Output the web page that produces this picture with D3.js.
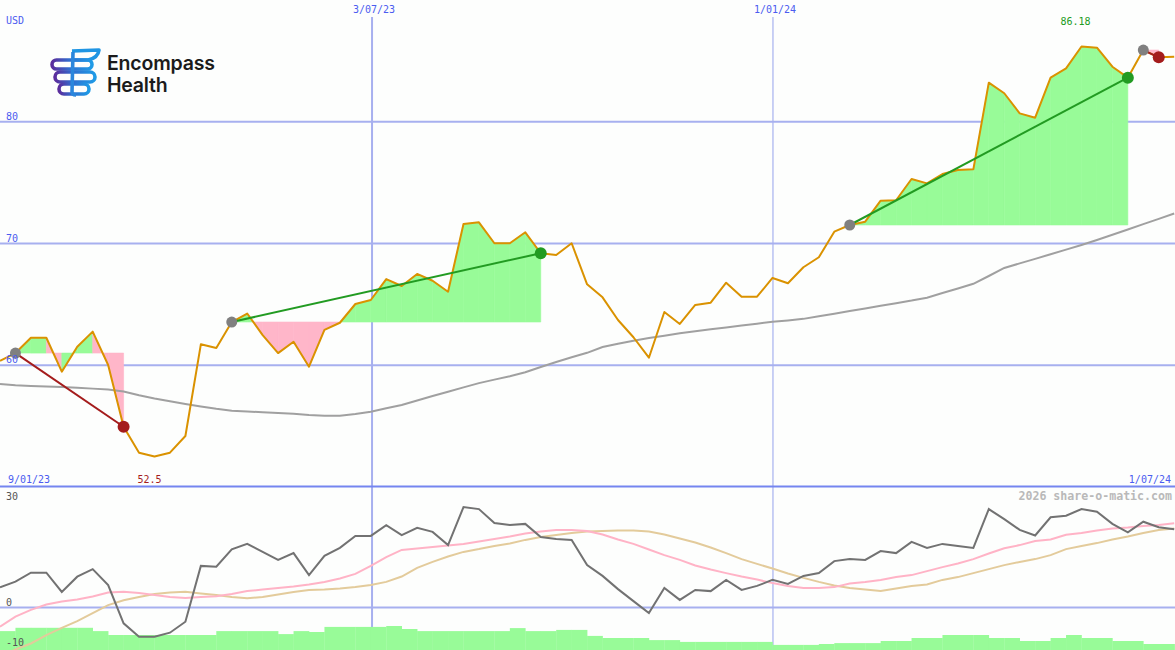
<!DOCTYPE html>
<html><head><meta charset="utf-8">
<script src="https://cdn.jsdelivr.net/npm/d3@7"></script>
<style>
html,body{margin:0;padding:0;background:#fdfefd;}
svg{display:block;}
text.mono{font-family:"DejaVu Sans Mono",monospace;}
text.logo{font-family:Inter,"Open Sans",sans-serif;}
</style></head>
<body>
<svg id="chart" width="1175" height="650"></svg>
<script>
// ---------- data ----------
const price = [60.37,61.0,62.26,62.26,59.47,61.52,62.76,60.02,54.95,52.82,
  52.5,52.82,54.19,61.72,61.42,63.55,64.25,62.48,61.0,61.93,
  59.88,62.9,63.49,65.03,65.36,67.08,66.51,67.5,66.94,66.04,
  71.6,71.74,70.02,70.02,70.92,69.2,69.06,70.02,66.65,65.58,
  63.72,62.3,60.62,64.37,63.39,64.95,65.14,66.78,65.63,65.63,
  67.17,66.73,68.05,68.87,70.97,71.52,71.79,73.52,73.55,75.3,
  74.94,75.71,76.04,76.09,83.21,82.34,80.69,80.33,83.62,84.39,
  86.18,86.08,84.52,83.62,85.89,85.29,85.34];
const movingAvg = [58.46,58.36,58.30,58.26,58.22,58.16,58.08,58.0,57.84,57.53,
  57.27,57.04,56.82,56.62,56.42,56.26,56.20,56.14,56.08,56.01,
  55.91,55.86,55.86,56.0,56.18,56.46,56.74,57.10,57.47,57.83,
  58.18,58.53,58.82,59.09,59.42,59.86,60.27,60.66,61.02,61.50,
  61.77,62.02,62.24,62.43,62.62,62.80,62.96,63.11,63.26,63.41,
  63.57,63.68,63.81,64.03,64.23,64.45,64.66,64.88,65.10,65.31,
  65.55,65.93,66.31,66.69,67.33,67.99,68.37,68.74,69.12,69.50,
  69.88,70.29,70.72,71.15,71.59,72.02,72.46];
const oscMain = [5.05,6.45,8.7,8.7,3.9,7.7,9.6,5.6,-3.95,-7.3,
  -7.3,-6.3,-3.55,10.4,10.2,14.55,15.9,13.9,11.9,13.6,
  8.1,12.9,14.9,17.9,17.9,20.6,18.1,19.9,18.9,15.6,
  25.1,24.6,21.1,20.6,20.9,17.6,17.1,16.9,10.6,7.9,
  4.6,1.6,-1.4,4.9,1.9,4.4,4.1,6.9,4.4,5.4,
  6.9,5.9,7.9,8.6,11.6,12.1,11.9,14.1,13.6,16.4,
  14.9,15.9,15.4,14.9,24.6,22.1,19.4,18.0,22.55,22.95,
  24.6,23.95,20.9,18.8,21.45,20.05,19.55];
const oscPink = [-4.8,-2.3,-0.6,0.75,1.5,2.0,2.75,3.75,3.95,3.6,
  3.1,2.6,2.4,2.6,2.8,3.4,4.1,4.5,4.9,5.25,
  5.75,6.4,7.25,8.4,10.4,12.6,14.4,14.75,15.1,15.5,
  15.9,16.5,17.1,17.75,18.5,19.0,19.4,19.4,19.1,18.25,
  17.0,15.9,14.5,13.1,11.9,10.5,9.5,8.6,7.75,7.0,
  6.1,5.4,4.9,4.9,5.1,6.0,6.4,6.9,7.6,8.1,
  9.1,10.1,11.0,12.1,13.5,14.8,15.6,16.6,17.0,18.2,
  18.6,19.25,19.75,20.0,20.4,20.6,21.05];
const oscTan = [-12.4,-10.5,-9.0,-6.9,-5.1,-3.4,-1.4,0.6,1.8,2.6,
  3.4,3.75,3.95,3.5,3.1,2.6,2.3,2.6,3.25,3.9,
  4.4,4.5,4.75,5.1,5.6,6.4,7.75,9.9,11.4,12.75,
  13.9,14.6,15.4,16.0,16.9,17.6,18.1,18.6,19.0,19.1,
  19.25,19.25,19.0,18.25,17.25,16.25,15.0,13.6,12.1,10.9,
  9.75,8.5,7.4,6.4,5.5,4.9,4.5,4.1,4.75,5.4,
  5.75,6.9,7.6,8.6,9.6,10.6,11.4,12.1,13.1,14.6,
  15.4,16.1,17.0,17.75,18.6,19.4,19.75];
const volume = [0.63,0.74,0.74,0.74,0.74,0.74,0.63,0.50,0.50,0.50,
  0.50,0.50,0.50,0.50,0.63,0.63,0.63,0.63,0.53,0.63,
  0.60,0.77,0.77,0.77,0.77,0.80,0.70,0.63,0.63,0.63,
  0.63,0.63,0.63,0.73,0.63,0.63,0.67,0.67,0.47,0.40,
  0.40,0.40,0.33,0.33,0.27,0.27,0.27,0.27,0.27,0.27,
  0.17,0.17,0.17,0.20,0.23,0.23,0.23,0.30,0.30,0.40,
  0.40,0.50,0.50,0.50,0.40,0.40,0.30,0.30,0.40,0.50,
  0.40,0.40,0.30,0.30,0.20,0.20,0.20];
const priceTicks = [60, 70, 80];
const oscTicks = [30, 0, -10];
const oscGridValues = [0];
const dateMarkers = [{label: "3/07/23", idx: 24.08}, {label: "1/01/24", idx: 50.03}];
const startDateLabel = "9/01/23";
const endDateLabel = "1/07/24";
const currencyLabel = "USD";
// trend segments: start index, end index, direction
const trends = [
  {start: 1, end: 8, dir: "down"},
  {start: 15, end: 35, dir: "up"},
  {start: 55, end: 73, dir: "up"},
  {start: 74, end: 75, dir: "down"}
];

// ---------- setup ----------
const W = 1175, H = 650;
const svg = d3.select("#chart");
const x = d3.scaleLinear().domain([0, price.length - 1]).range([0, 1174.2]);
const y = d3.scaleLinear().domain([50, 90]).range([487, 0]);
const yo = d3.scaleLinear().domain([-10, 30]).range([647.5, 487.5]);
const yv = d3.scaleLinear().domain([0, 1]).range([650, 620]);

const C = {
  grid: "#a7b0ef", sep: "#7585f0", axisText: "#4b5cf0", price: "#da9200",
  ma: "#a0a0a0", green: "#98fb98", pink: "#ffb6c9", upLine: "#229b22",
  downLine: "#a41c1c", dot: "#808080", osc: "#727272", oscPink: "#ffb3c6",
  oscTan: "#e3cb9b", oscLabel: "#555555", water: "#b9b9b9"
};

svg.append("rect").attr("width", W).attr("height", H).attr("fill", "#fdfefd");

// grid
const g = svg.append("g");
g.selectAll("line.h").data(priceTicks).join("line")
  .attr("x1", 0).attr("x2", W).attr("y1", d => y(d)).attr("y2", d => y(d))
  .attr("stroke", C.grid).attr("stroke-width", 2);
g.selectAll("line.o").data(oscGridValues).join("line")
  .attr("x1", 0).attr("x2", W).attr("y1", d => yo(d)).attr("y2", d => yo(d))
  .attr("stroke", C.grid).attr("stroke-width", 2);
g.selectAll("line.v").data(dateMarkers).join("line")
  .attr("x1", d => x(d.idx)).attr("x2", d => x(d.idx))
  .attr("y1", 17).attr("y2", H)
  .attr("stroke", C.grid).attr("stroke-width", (d, i) => i === 0 ? 2 : 1.2);
g.append("line").attr("x1", 0).attr("x2", W).attr("y1", 486.5).attr("y2", 486.5)
  .attr("stroke", C.sep).attr("stroke-width", 2);

// trend fills
const fills = svg.append("g");
trends.forEach(t => {
  const base = price[t.start];
  for (let i = t.start; i < t.end; i++) {
    const p0 = price[i], p1 = price[i + 1];
    const x0 = x(i), x1 = x(i + 1);
    const pieces = [];
    if ((p0 - base) * (p1 - base) < 0) {
      const tt = (base - p0) / (p1 - p0);
      const xm = x0 + (x1 - x0) * tt;
      pieces.push({pts: [[x0, y(base)], [x0, y(p0)], [xm, y(base)]], above: p0 > base});
      pieces.push({pts: [[xm, y(base)], [x1, y(p1)], [x1, y(base)]], above: p1 > base});
    } else {
      pieces.push({pts: [[x0, y(base)], [x0, y(p0)], [x1, y(p1)], [x1, y(base)]], above: (p0 + p1) / 2 >= base});
    }
    pieces.forEach(pc => {
      let col;
      if (t.dir === "up") col = pc.above ? C.green : C.pink;
      else col = p1 >= p0 ? C.green : C.pink;
      fills.append("path").attr("d", "M" + pc.pts.map(p => p.join(",")).join("L") + "Z")
        .attr("fill", col).attr("stroke", col).attr("stroke-width", 0.6);
    });
  }
});

// moving average
const line = d3.line().x((d, i) => x(i)).y(d => y(d));
svg.append("path").attr("d", line(movingAvg)).attr("fill", "none")
  .attr("stroke", C.ma).attr("stroke-width", 2);
// price
svg.append("path").attr("d", line(price)).attr("fill", "none")
  .attr("stroke", C.price).attr("stroke-width", 2).attr("stroke-linejoin", "round");

// trend lines and dots
trends.forEach(t => {
  svg.append("line").attr("x1", x(t.start)).attr("y1", y(price[t.start]))
    .attr("x2", x(t.end)).attr("y2", y(price[t.end]))
    .attr("stroke", t.dir === "up" ? C.upLine : C.downLine).attr("stroke-width", 2);
});
trends.forEach(t => {
  svg.append("circle").attr("cx", x(t.start)).attr("cy", y(price[t.start])).attr("r", 5.5).attr("fill", C.dot);
  svg.append("circle").attr("cx", x(t.end)).attr("cy", y(price[t.end])).attr("r", 6)
    .attr("fill", t.dir === "up" ? C.upLine : C.downLine);
});

// lower panel
svg.append("g").selectAll("rect").data(volume).join("rect")
  .attr("x", (d, i) => x(i)).attr("width", x(1) - x(0) + 0.3)
  .attr("y", d => yv(d)).attr("height", d => 650 - yv(d)).attr("fill", C.green);
const oline = d3.line().x((d, i) => x(i)).y(d => yo(d));
svg.append("path").attr("d", oline(oscTan)).attr("fill", "none").attr("stroke", C.oscTan).attr("stroke-width", 2);
svg.append("path").attr("d", oline(oscPink)).attr("fill", "none").attr("stroke", C.oscPink).attr("stroke-width", 2);
svg.append("path").attr("d", oline(oscMain)).attr("fill", "none").attr("stroke", C.osc).attr("stroke-width", 2);

// labels
const txt = svg.append("g").attr("font-size", 10);
const T = () => txt.append("text").attr("class", "mono");
T().attr("x", 6).attr("y", 24).attr("fill", C.axisText).text(currencyLabel);
txt.selectAll("text.pt").data(priceTicks).join("text").attr("class", "mono")
  .attr("x", 6).attr("y", d => y(d) - 2).attr("fill", C.axisText).text(d => d);
txt.selectAll("text.ot").data(oscTicks).join("text").attr("class", "mono")
  .attr("x", 6).attr("y", d => d === 30 ? 500 : yo(d) - 1.5).attr("fill", C.oscLabel).text(d => d);
txt.selectAll("text.dm").data(dateMarkers).join("text").attr("class", "mono")
  .attr("x", d => x(d.idx) + 2).attr("y", 13).attr("text-anchor", "middle")
  .attr("fill", C.axisText).text(d => d.label);
T().attr("x", 8).attr("y", 483).attr("fill", C.axisText).text(startDateLabel);
T().attr("x", 1171).attr("y", 483).attr("text-anchor", "end").attr("fill", C.axisText).text(endDateLabel);
const maxI = d3.maxIndex(price), minI = d3.minIndex(price);
T().attr("x", x(maxI) - 6).attr("y", 25).attr("text-anchor", "middle")
  .attr("fill", C.upLine).text(price[maxI]);
T().attr("x", x(minI) - 5).attr("y", 483).attr("text-anchor", "middle")
  .attr("fill", C.downLine).text(price[minI]);
svg.append("text").attr("class", "mono").attr("x", 1172).attr("y", 500).attr("text-anchor", "end")
  .attr("font-size", 11.6).attr("font-weight", "bold").attr("fill", C.water)
  .text("2026 share-o-matic.com");

// logo
const defs = svg.append("defs");
const gr = defs.append("linearGradient").attr("id", "lg").attr("x1", "0").attr("x2", "1").attr("y1", "0").attr("y2", "0");
gr.append("stop").attr("offset", "0%").attr("stop-color", "#5b2d9c");
gr.append("stop").attr("offset", "45%").attr("stop-color", "#2f6fd0");
gr.append("stop").attr("offset", "100%").attr("stop-color", "#1f9be6");
const logo = svg.append("g");
logo.append("path").attr("d", "M72,51 L99,50 Q98,58 88,60 L74,60")
  .attr("fill", "none").attr("stroke", "#1f95e3").attr("stroke-width", 3.6).attr("stroke-linejoin", "round");
logo.append("rect").attr("x", 52).attr("y", 60).attr("width", 40).attr("height", 9).attr("rx", 4.5)
  .attr("fill", "none").attr("stroke", "url(#lg)").attr("stroke-width", 3.6);
logo.append("rect").attr("x", 55).attr("y", 72).attr("width", 40).attr("height", 10).attr("rx", 5)
  .attr("fill", "none").attr("stroke", "url(#lg)").attr("stroke-width", 3.6);
logo.append("rect").attr("x", 59).attr("y", 84).attr("width", 30).attr("height", 10).attr("rx", 5)
  .attr("fill", "none").attr("stroke", "url(#lg)").attr("stroke-width", 3.6);
logo.append("path").attr("d", "M73,52 L72,92 Q72,95 76,95")
  .attr("fill", "none").attr("stroke", "#2a86dc").attr("stroke-width", 3.6);
logo.append("text").attr("class", "logo").attr("x", 107).attr("y", 70)
  .attr("font-size", 19.5).attr("font-weight", 600).attr("fill", "#1b1b1b").attr("letter-spacing", -0.2).text("Encompass");
logo.append("text").attr("class", "logo").attr("x", 107).attr("y", 92)
  .attr("font-size", 19.5).attr("font-weight", 600).attr("fill", "#1b1b1b").attr("letter-spacing", -0.2).text("Health");
</script>
</body></html>
